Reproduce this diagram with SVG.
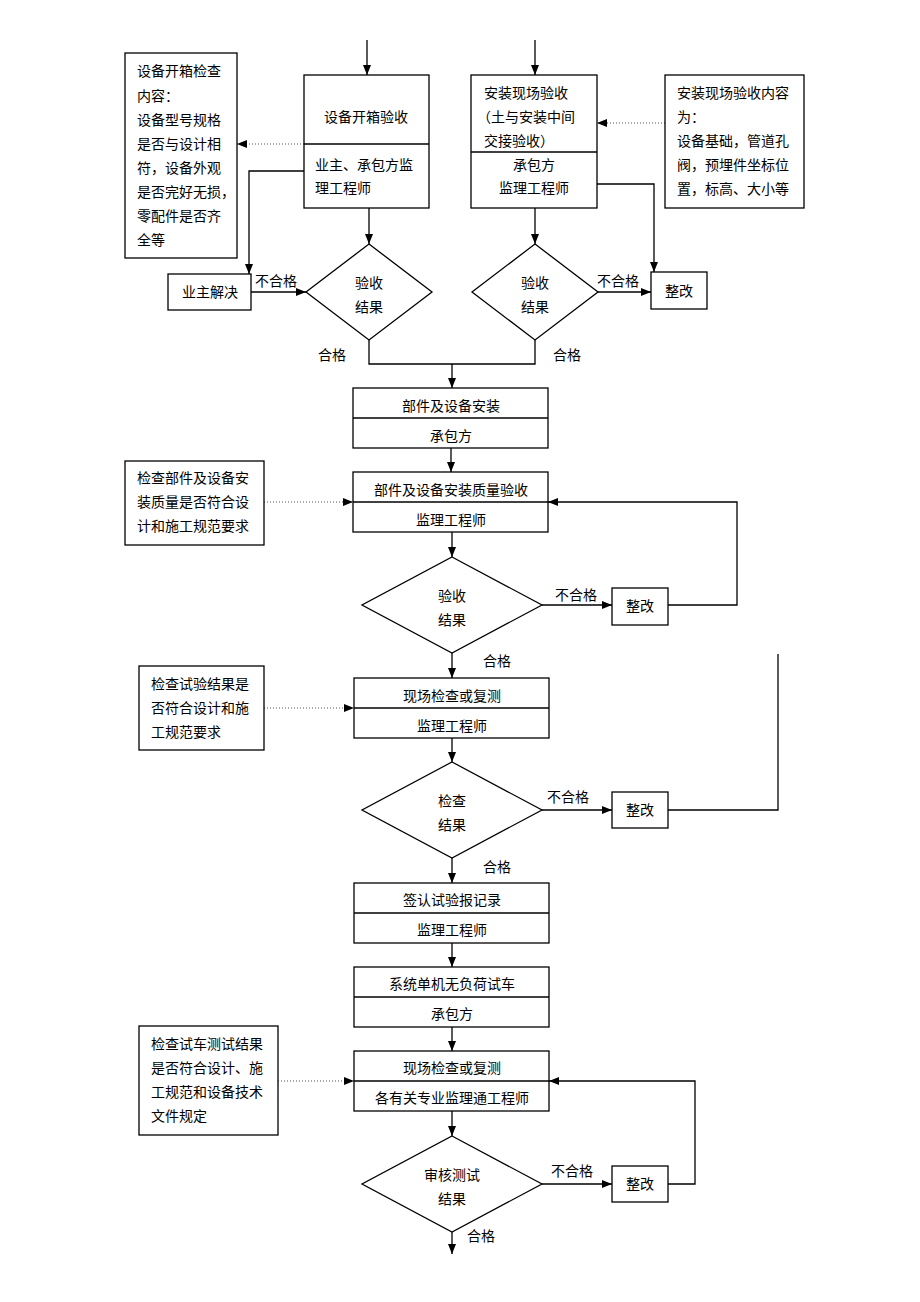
<svg xmlns="http://www.w3.org/2000/svg" width="920" height="1302" viewBox="0 0 920 1302">
<style>
text{font-family:"Liberation Serif","Noto Sans CJK SC",serif;font-size:14px;fill:#000}
.c{text-anchor:middle}
.box{fill:#fff;stroke:#000;stroke-width:1.3}
.ln{fill:none;stroke:#000;stroke-width:1.3}
.dot{fill:none;stroke:#555;stroke-width:1;stroke-dasharray:1,2}
</style>
<defs>
<marker id="arr" markerWidth="10" markerHeight="8" refX="10" refY="4" orient="auto" markerUnits="userSpaceOnUse"><path d="M0,0 L10,4 L0,8 z" fill="#000"/></marker>
</defs>
<rect width="920" height="1302" fill="#fff"/>

<g id="connectors">
<line class="ln" x1="367" y1="40" x2="367" y2="75" marker-end="url(#arr)"/>
<line class="ln" x1="535" y1="40" x2="535" y2="75" marker-end="url(#arr)"/>
<line class="dot" x1="304" y1="144" x2="237" y2="144" marker-end="url(#arr)"/>
<polyline class="ln" points="304,171 249,171 249,274" marker-end="url(#arr)"/>
<line class="ln" x1="251" y1="292" x2="306" y2="292" marker-end="url(#arr)"/>
<line class="ln" x1="369" y1="208" x2="369" y2="244" marker-end="url(#arr)"/>
<polyline class="ln" points="369,340 369,364 535,364 535,340"/>
<line class="dot" x1="665" y1="123" x2="597" y2="123" marker-end="url(#arr)"/>
<polyline class="ln" points="597,184 654,184 654,272" marker-end="url(#arr)"/>
<line class="ln" x1="535" y1="208" x2="535" y2="244" marker-end="url(#arr)"/>
<line class="ln" x1="598" y1="292" x2="651" y2="292" marker-end="url(#arr)"/>
<line class="ln" x1="452" y1="364" x2="452" y2="388" marker-end="url(#arr)"/>
<line class="ln" x1="451" y1="448" x2="451" y2="472" marker-end="url(#arr)"/>
<line class="dot" x1="264" y1="502" x2="353" y2="502" marker-end="url(#arr)"/>
<line class="ln" x1="452" y1="532" x2="452" y2="557" marker-end="url(#arr)"/>
<line class="ln" x1="542" y1="605" x2="612" y2="605" marker-end="url(#arr)"/>
<polyline class="ln" points="668,605 737,605 737,502 548,502" marker-end="url(#arr)"/>
<line class="ln" x1="452" y1="653" x2="452" y2="678" marker-end="url(#arr)"/>
<line class="dot" x1="264" y1="708" x2="354" y2="708" marker-end="url(#arr)"/>
<line class="ln" x1="452" y1="738" x2="452" y2="762" marker-end="url(#arr)"/>
<line class="ln" x1="542" y1="810" x2="612" y2="810" marker-end="url(#arr)"/>
<polyline class="ln" points="668,810 778,810 778,654"/>
<line class="ln" x1="452" y1="858" x2="452" y2="883" marker-end="url(#arr)"/>
<line class="ln" x1="452" y1="943" x2="452" y2="967" marker-end="url(#arr)"/>
<line class="ln" x1="452" y1="1027" x2="452" y2="1051" marker-end="url(#arr)"/>
<line class="dot" x1="278" y1="1081" x2="354" y2="1081" marker-end="url(#arr)"/>
<line class="ln" x1="452" y1="1111" x2="452" y2="1136" marker-end="url(#arr)"/>
<line class="ln" x1="542" y1="1184" x2="612" y2="1184" marker-end="url(#arr)"/>
<polyline class="ln" points="668,1184 695,1184 695,1081 549,1081" marker-end="url(#arr)"/>
<line class="ln" x1="452" y1="1232" x2="452" y2="1254" marker-end="url(#arr)"/>
<text x="255" y="286">不合格</text>
<text x="318" y="360">合格</text>
<text x="597" y="286">不合格</text>
<text x="553" y="360">合格</text>
<text x="555" y="600">不合格</text>
<text x="483" y="666">合格</text>
<text x="547" y="802">不合格</text>
<text x="483" y="872">合格</text>
<text x="551" y="1176">不合格</text>
<text x="467" y="1241">合格</text>
</g>

<g id="note1">
<rect class="box" x="125" y="53" width="112" height="205"/>
<text x="137" y="76">设备开箱检查</text>
<text x="137" y="101">内容：</text>
<text x="137" y="125">设备型号规格</text>
<text x="137" y="149">是否与设计相</text>
<text x="137" y="173">符，设备外观</text>
<text x="137" y="197">是否完好无损，</text>
<text x="137" y="221">零配件是否齐</text>
<text x="137" y="245">全等</text>
</g>

<g id="box-kaixiang">
<rect class="box" x="304" y="75" width="125" height="133"/>
<line class="ln" x1="304" y1="144" x2="429" y2="144"/>
<text class="c" x="366" y="122">设备开箱验收</text>
<text x="315" y="170">业主、承包方监</text>
<text x="315" y="193">理工程师</text>
</g>

<g id="box-anzhuang">
<rect class="box" x="471" y="75" width="126" height="133"/>
<line class="ln" x1="471" y1="152" x2="597" y2="152"/>
<text x="484" y="98">安装现场验收</text>
<text x="477" y="122">（土与安装中间</text>
<text x="484" y="146">交接验收）</text>
<text class="c" x="534" y="170">承包方</text>
<text class="c" x="534" y="193">监理工程师</text>
</g>

<g id="note2">
<rect class="box" x="665" y="75" width="139" height="133"/>
<text x="677" y="98">安装现场验收内容</text>
<text x="677" y="122">为：</text>
<text x="677" y="146">设备基础，管道孔</text>
<text x="677" y="170">阀，预埋件坐标位</text>
<text x="677" y="194">置，标高、大小等</text>
</g>

<g id="yezhu">
<rect class="box" x="168" y="274" width="83" height="36"/>
<text class="c" x="210" y="297">业主解决</text>
</g>

<g id="diamond1">
<polygon class="box" points="369,244 432,292 369,340 306,292"/>
<text class="c" x="369" y="288">验收</text>
<text class="c" x="369" y="312">结果</text>
</g>

<g id="diamond2">
<polygon class="box" points="535,244 598,292 535,340 472,292"/>
<text class="c" x="535" y="288">验收</text>
<text class="c" x="535" y="312">结果</text>
</g>

<g id="zhenggai1">
<rect class="box" x="651" y="272" width="56" height="37"/>
<text class="c" x="679" y="296">整改</text>
</g>

<g id="box-bujian">
<rect class="box" x="353" y="388" width="195" height="60"/>
<line class="ln" x1="353" y1="418" x2="548" y2="418"/>
<text class="c" x="451" y="411">部件及设备安装</text>
<text class="c" x="451" y="441">承包方</text>
</g>

<g id="box-zhiliang">
<rect class="box" x="353" y="472" width="195" height="60"/>
<line class="ln" x1="353" y1="502" x2="548" y2="502"/>
<text class="c" x="451" y="495">部件及设备安装质量验收</text>
<text class="c" x="451" y="525">监理工程师</text>
</g>

<g id="note3">
<rect class="box" x="125" y="461" width="139" height="84"/>
<text x="137" y="483">检查部件及设备安</text>
<text x="137" y="507">装质量是否符合设</text>
<text x="137" y="531">计和施工规范要求</text>
</g>

<g id="diamond3">
<polygon class="box" points="452,557 542,605 452,653 362,605"/>
<text class="c" x="452" y="601">验收</text>
<text class="c" x="452" y="625">结果</text>
</g>

<g id="zhenggai2">
<rect class="box" x="612" y="588" width="56" height="37"/>
<text class="c" x="640" y="611">整改</text>
</g>

<g id="box-xianchang1">
<rect class="box" x="354" y="678" width="195" height="60"/>
<line class="ln" x1="354" y1="708" x2="549" y2="708"/>
<text class="c" x="452" y="701">现场检查或复测</text>
<text class="c" x="452" y="731">监理工程师</text>
</g>

<g id="note4">
<rect class="box" x="139" y="666" width="125" height="84"/>
<text x="151" y="689">检查试验结果是</text>
<text x="151" y="713">否符合设计和施</text>
<text x="151" y="737">工规范要求</text>
</g>

<g id="diamond4">
<polygon class="box" points="452,762 542,810 452,858 362,810"/>
<text class="c" x="452" y="806">检查</text>
<text class="c" x="452" y="830">结果</text>
</g>

<g id="zhenggai3">
<rect class="box" x="612" y="792" width="56" height="36"/>
<text class="c" x="640" y="815">整改</text>
</g>

<g id="box-qianren">
<rect class="box" x="354" y="883" width="195" height="60"/>
<line class="ln" x1="354" y1="913" x2="549" y2="913"/>
<text class="c" x="452" y="905">签认试验报记录</text>
<text class="c" x="452" y="935">监理工程师</text>
</g>

<g id="box-shiche">
<rect class="box" x="354" y="967" width="195" height="60"/>
<line class="ln" x1="354" y1="997" x2="549" y2="997"/>
<text class="c" x="452" y="989">系统单机无负荷试车</text>
<text class="c" x="452" y="1019">承包方</text>
</g>

<g id="box-xianchang2">
<rect class="box" x="354" y="1051" width="195" height="60"/>
<line class="ln" x1="354" y1="1081" x2="549" y2="1081"/>
<text class="c" x="452" y="1073">现场检查或复测</text>
<text class="c" x="452" y="1103">各有关专业监理通工程师</text>
</g>

<g id="note5">
<rect class="box" x="139" y="1026" width="139" height="109"/>
<text x="151" y="1049">检查试车测试结果</text>
<text x="151" y="1073">是否符合设计、施</text>
<text x="151" y="1097">工规范和设备技术</text>
<text x="151" y="1121">文件规定</text>
</g>

<g id="diamond5">
<polygon class="box" points="452,1136 542,1184 452,1232 362,1184"/>
<text class="c" x="452" y="1180">审核测试</text>
<text class="c" x="452" y="1204">结果</text>
</g>

<g id="zhenggai4">
<rect class="box" x="612" y="1166" width="56" height="36"/>
<text class="c" x="640" y="1189">整改</text>
</g>
</svg>
